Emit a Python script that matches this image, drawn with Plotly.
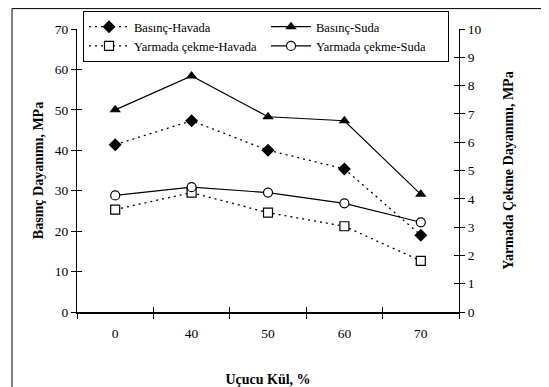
import plotly.graph_objects as go

categories = ["0", "40", "50", "60", "70"]
basinc_havada = [41.4, 47.3, 40.0, 35.4, 19.0]
basinc_suda = [50.0, 58.4, 48.3, 47.3, 29.1]
yarmada_havada = [3.62, 4.22, 3.51, 3.03, 1.81]
yarmada_suda = [4.12, 4.41, 4.22, 3.84, 3.17]
left_ticks = [0, 10, 20, 30, 40, 50, 60, 70]
right_ticks = [0, 1, 2, 3, 4, 5, 6, 7, 8, 9, 10]

FONT = "Liberation Serif"
W, H = 549, 387
OFF = 8  # page body margin
PL, PT, PR, PB = 77, 29, 459, 312  # plot area in page pixels
pw, ph = PR - PL, PB - PT
L, T = PL - OFF, PT - OFF
R, B = W - L - pw, H - T - ph

def px_x(x):
    return (x - PL) / pw

def px_y(y):
    return (PB - y) / ph

fig = go.Figure()
fig.add_trace(go.Scatter(x=categories, y=basinc_havada, name="Basınç-Havada", mode="lines+markers",
                         line=dict(color="black", width=1.3, dash="2px,4px"),
                         marker=dict(symbol="diamond", size=10, color="black")))
fig.add_trace(go.Scatter(x=categories, y=basinc_suda, name="Basınç-Suda", mode="lines+markers",
                         line=dict(color="black", width=1.2),
                         marker=dict(symbol="triangle-up", size=10, color="black")))
fig.add_trace(go.Scatter(x=categories, y=yarmada_havada, name="Yarmada çekme-Havada", mode="lines+markers",
                         yaxis="y2",
                         line=dict(color="black", width=1.3, dash="2px,4px"),
                         marker=dict(symbol="square", size=9, color="white", line=dict(color="black", width=1.2))))
fig.add_trace(go.Scatter(x=categories, y=yarmada_suda, name="Yarmada çekme-Suda", mode="lines+markers",
                         yaxis="y2",
                         line=dict(color="black", width=1.2),
                         marker=dict(symbol="circle", size=9, color="white", line=dict(color="black", width=1.2))))

tickfont = dict(family=FONT, size=13.5, color="black")
titlefont = dict(family=FONT, size=14, color="black", weight="bold")

fig.update_layout(
    width=W, height=H,
    margin=dict(l=L, r=R, t=T, b=B, pad=0, autoexpand=False),
    paper_bgcolor="white", plot_bgcolor="white",
    font=dict(family=FONT, color="black"),
    xaxis=dict(type="category", categoryarray=categories, range=[-0.5, 4.5], automargin=False,
               showline=True, linecolor="black", linewidth=2,
               ticks="outside", ticklen=5, tickcolor="black", tickwidth=1,
               tickson="boundaries", showgrid=False, zeroline=False,
               tickfont=tickfont, ticklabelstandoff=8,
               title=dict(text="<b>Uçucu Kül, %</b>", font=titlefont, standoff=34)),
    xaxis2=dict(overlaying="x", range=[-0.5, 4.5], tick0=-0.5, dtick=1, automargin=False,
                ticks="inside", ticklen=5, tickcolor="black", showticklabels=False,
                showgrid=False, zeroline=False, showline=False, anchor="y"),
    yaxis=dict(range=[0, 70], tickvals=left_ticks, showline=True, linecolor="black", linewidth=1,
               ticks="outside", ticklen=5, tickcolor="black", showgrid=False, zeroline=False,
               tickfont=tickfont, automargin=False,
               title=dict(text="<b>Basınç Dayanımı, MPa</b>", font=titlefont, standoff=7)),
    yaxis2=dict(range=[0, 10], tickvals=right_ticks, overlaying="y", side="right",
                showline=True, linecolor="black", linewidth=1, automargin=False,
                ticks="outside", ticklen=5, tickcolor="black", showgrid=False, zeroline=False,
                tickfont=tickfont,
                title=dict(text="<b>Yarmada Çekme Dayanımı, MPa</b>", font=titlefont, standoff=22)),
    yaxis3=dict(range=[0, 70], tickvals=left_ticks, overlaying="y", side="left", automargin=False,
                ticks="inside", ticklen=5, tickcolor="black", showticklabels=False,
                showgrid=False, zeroline=False, showline=False),
    yaxis4=dict(range=[0, 10], tickvals=right_ticks, overlaying="y", side="right", automargin=False,
                ticks="inside", ticklen=5, tickcolor="black", showticklabels=False,
                showgrid=False, zeroline=False, showline=False),
    legend=dict(orientation="h", x=px_x(83), y=px_y(11), xanchor="left", yanchor="top",
                bgcolor="white", bordercolor="black", borderwidth=1,
                font=dict(family=FONT, size=12.5, color="black"),
                entrywidth=127, tracegroupgap=0, itemwidth=40),
    showlegend=True,
)

# invisible traces to activate helper axes
fig.add_trace(go.Scatter(x=[0], y=[0], xaxis="x2", yaxis="y3", mode="markers",
                         marker=dict(opacity=0), showlegend=False, hoverinfo="skip"))
fig.add_trace(go.Scatter(x=[0], y=[0], xaxis="x2", yaxis="y4", mode="markers",
                         marker=dict(opacity=0), showlegend=False, hoverinfo="skip"))

fig.add_shape(type="rect", xref="paper", yref="paper",
              x0=px_x(12), x1=px_x(620), y0=px_y(420), y1=px_y(OFF + 0.6),
              line=dict(color="black", width=1), fillcolor="rgba(0,0,0,0)", layer="below")

fig.write_html("out.html")
